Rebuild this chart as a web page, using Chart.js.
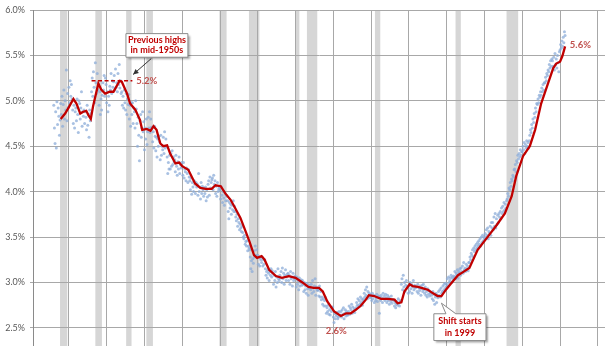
<!DOCTYPE html>
<html>
<head>
<meta charset="utf-8">
<script src="https://cdn.jsdelivr.net/npm/chart.js@4.4.1/dist/chart.umd.min.js"></script>
<style>
html, body { margin: 0; padding: 0; background: #fff; overflow: hidden; }
#wrap { width: 616px; height: 346px; position: relative; }
</style>
</head>
<body>
<div id="wrap"><canvas id="chart"></canvas></div>
<script>
// monthly readings, Jan 1948 onward
var firstYear = 1948;
var monthlyShare = [
  4.95,4.70,4.53,4.88,4.48,4.99,4.74,4.92,4.83,4.62,4.79,4.97, // 1948
  4.85,5.05,4.72,4.96,5.12,4.80,5.00,4.90,5.34,4.78,5.08,4.93, // 1949
  5.15,4.98,5.22,5.05,5.18,5.02,4.90,4.75,4.95,4.70,4.88,4.92, // 1950
  4.78,5.02,4.85,4.65,5.00,4.97,4.80,4.92,5.10,4.72,4.88,4.83, // 1951
  4.90,4.75,4.88,4.82,4.68,4.95,4.73,4.85,4.60,4.90,4.78,4.86, // 1952
  5.10,5.25,5.05,5.32,5.15,4.98,5.42,5.20,5.08,5.30,5.12,5.18, // 1953
  4.95,5.10,4.85,5.02,4.90,5.06,5.20,5.12,5.28,5.05,5.25,5.18, // 1954
  4.98,5.10,4.88,5.05,4.95,5.16,5.12,5.30,5.08,5.22,5.15,5.21, // 1955
  5.28,5.12,5.35,5.15,5.20,5.10,5.30,5.18,5.40,5.14,5.22,5.08, // 1956
  5.10,4.95,5.05,4.92,5.12,4.98,4.90,5.08,4.85,5.02,4.96,5.07, // 1957
  4.80,4.95,4.72,4.98,4.85,4.98,4.75,4.92,4.88,4.70,5.00,4.91, // 1958
  4.75,4.50,4.82,4.62,4.34,4.78,4.85,4.60,4.70,4.88,4.66,4.77, // 1959
  4.46,4.70,4.58,4.80,4.52,4.66,4.82,4.70,4.88,4.65,4.80,4.71, // 1960
  4.70,4.55,4.66,4.48,4.72,4.61,4.45,4.60,4.38,4.58,4.50,4.61, // 1961
  4.55,4.35,4.62,4.40,4.50,4.46,4.60,4.42,4.66,4.48,4.58,4.50, // 1962
  4.38,4.20,4.32,4.25,4.40,4.25,4.42,4.28,4.45,4.30,4.38,4.33, // 1963
  4.35,4.22,4.40,4.28,4.18,4.33,4.25,4.38,4.20,4.30,4.26,4.32, // 1964
  4.28,4.18,4.32,4.15,4.25,4.22,4.12,4.26,4.20,4.10,4.24,4.16, // 1965
  4.12,4.02,4.15,3.97,4.10,4.05,4.00,4.12,4.08,3.98,4.10,4.05, // 1966
  4.08,3.96,4.20,4.00,4.05,3.92,4.10,3.98,4.06,4.02,3.95,4.04, // 1967
  3.98,4.05,3.90,4.02,3.94,4.08,4.12,3.96,4.16,4.04,4.10,4.13, // 1968
  4.15,4.02,4.18,4.08,4.12,3.98,4.06,3.95,4.10,4.00,4.03,4.05, // 1969
  4.02,3.92,4.05,3.96,3.88,4.00,3.93,3.85,3.98,3.90,3.96,3.95, // 1970
  3.90,3.78,3.70,3.88,3.82,3.86,3.75,3.85,3.80,3.90,3.78,3.84, // 1971
  3.78,3.72,3.68,3.75,3.62,3.70,3.66,3.58,3.64,3.60,3.56,3.62, // 1972
  3.55,3.50,3.48,3.52,3.42,3.45,3.40,3.46,3.35,3.40,3.38,3.36, // 1973
  3.28,3.15,3.24,3.12,3.26,3.21,3.35,3.28,3.40,3.30,3.36,3.29, // 1974
  3.30,3.20,3.28,3.18,3.27,3.25,3.22,3.28,3.18,3.25,3.20,3.25, // 1975
  3.15,3.08,3.12,3.05,3.14,3.10,3.02,3.12,3.08,3.15,3.06,3.13, // 1976
  3.10,2.98,3.08,3.02,3.12,2.95,3.06,3.00,3.15,3.04,3.02,3.08, // 1977
  3.05,3.12,3.00,3.16,3.04,3.10,2.98,3.08,3.14,3.02,3.06,3.09, // 1978
  3.10,3.02,3.08,2.98,3.12,3.04,3.06,2.96,3.10,3.02,3.05,3.07, // 1979
  3.04,2.95,3.06,2.98,3.02,2.92,3.05,2.96,3.00,3.03,2.97,3.02, // 1980
  2.98,2.90,3.00,2.92,2.96,2.88,2.99,2.93,2.86,2.97,2.94,2.95, // 1981
  2.92,2.98,2.88,3.02,2.94,2.90,2.96,3.04,2.86,2.95,2.92,2.91, // 1982
  2.92,2.85,2.96,2.84,2.90,2.81,2.84,2.76,2.82,2.74,2.80,2.84, // 1983
  2.74,2.66,2.72,2.68,2.75,2.65,2.70,2.64,2.73,2.68,2.72,2.73, // 1984
  2.62,2.56,2.66,2.60,2.65,2.63,2.67,2.60,2.62,2.68,2.63,2.64, // 1985
  2.68,2.62,2.70,2.65,2.72,2.60,2.66,2.70,2.63,2.68,2.64,2.64, // 1986
  2.68,2.74,2.65,2.72,2.70,2.76,2.66,2.73,2.68,2.71,2.67,2.70, // 1987
  2.72,2.78,2.75,2.82,2.74,2.80,2.76,2.84,2.78,2.82,2.75,2.80, // 1988
  2.82,2.88,2.84,2.92,2.86,2.95,2.82,2.90,2.85,2.88,2.83,2.87, // 1989
  2.84,2.80,2.88,2.82,2.86,2.78,2.85,2.80,2.83,2.87,2.79,2.84, // 1990
  2.85,2.66,2.84,2.80,2.86,2.83,2.78,2.88,2.82,2.85,2.80,2.87, // 1991
  2.83,2.78,2.86,2.80,2.84,2.76,2.82,2.79,2.85,2.77,2.81,2.81, // 1992
  2.80,2.74,2.78,2.72,2.76,2.79,2.75,2.82,2.77,2.74,2.80,2.79, // 1993
  2.98,3.04,2.92,3.08,2.95,3.00,2.90,2.97,3.02,2.94,2.96,2.88, // 1994
  2.96,2.90,3.00,2.93,2.98,2.88,2.95,3.02,2.92,2.97,2.94,2.95, // 1995
  2.95,2.90,2.98,2.88,2.94,2.91,2.96,2.86,2.93,2.97,2.90,2.98, // 1996
  2.92,2.88,2.95,2.86,2.90,2.84,2.93,2.87,2.91,2.85,2.89,2.88, // 1997
  2.86,2.82,2.90,2.80,2.87,2.76,2.84,2.88,2.78,2.86,2.83,2.90, // 1998
  2.86,2.92,2.84,2.94,2.88,2.90,2.96,2.91,2.98,2.93,2.99,2.95, // 1999
  2.98,3.04,2.96,3.06,3.00,3.02,3.05,3.08,3.00,3.06,3.04,3.07, // 2000
  3.06,3.12,3.04,3.10,3.08,3.14,3.05,3.12,3.10,3.15,3.08,3.16, // 2001
  3.12,3.18,3.10,3.22,3.14,3.16,3.12,3.20,3.15,3.18,3.13,3.22, // 2002
  3.22,3.28,3.25,3.32,3.30,3.36,3.28,3.38,3.34,3.40,3.36,3.42, // 2003
  3.38,3.44,3.40,3.46,3.42,3.48,3.40,3.50,3.44,3.52,3.46,3.50, // 2004
  3.48,3.54,3.50,3.58,3.52,3.60,3.48,3.56,3.54,3.62,3.52,3.66, // 2005
  3.60,3.66,3.58,3.72,3.62,3.76,3.60,3.70,3.64,3.74,3.66,3.76, // 2006
  3.72,3.78,3.70,3.82,3.76,3.84,3.78,3.88,3.80,3.86,3.82,3.90, // 2007
  3.92,3.98,3.95,4.04,4.02,4.10,4.06,4.14,4.12,4.18,4.16,4.24, // 2008
  4.25,4.30,4.22,4.34,4.32,4.40,4.36,4.42,4.38,4.46,4.40,4.44, // 2009
  4.44,4.50,4.46,4.54,4.42,4.52,4.48,4.56,4.50,4.54,4.48,4.56, // 2010
  4.62,4.68,4.65,4.74,4.70,4.80,4.76,4.86,4.82,4.92,4.88,4.97, // 2011
  4.96,5.02,4.98,5.06,5.04,5.10,5.06,5.14,5.10,5.18,5.12,5.20, // 2012
  5.20,5.26,5.22,5.30,5.28,5.34,5.32,5.40,5.36,5.44,5.38,5.46, // 2013
  5.44,5.38,5.48,5.34,5.52,5.40,5.46,5.36,5.50,5.42,5.32,5.54, // 2014
  5.56,5.62,5.58,5.66,5.60,5.70,5.64,5.76,5.72                 // 2015
];

// 12-month moving average
var maYears = [
  1948.92,1949.5,1950.0,1950.6,1951.0,1951.5,1951.9,1952.3,1952.6,1952.9,
  1953.2,1953.9,1954.3,1954.8,1955.4,1955.9,1956.7,1957.0,1957.7,1958.1,
  1958.8,1959.4,1959.7,1960.3,1960.8,1961.2,1961.6,1962.1,1962.5,1963.0,
  1963.4,1964.1,1964.6,1965.0,1965.8,1966.7,1967.4,1968.1,1968.9,1969.4,
  1970.1,1970.7,1971.4,1972.0,1972.7,1973.4,1973.9,1974.5,1974.9,1975.5,
  1975.9,1976.5,1977.4,1978.2,1979.1,1980.0,1980.9,1981.7,1982.4,1983.1,
  1983.6,1984.2,1985.1,1986.0,1986.7,1987.3,1988.0,1988.6,1989.3,1989.7,
  1990.4,1991.3,1992.2,1993.1,1993.5,1994.0,1994.4,1995.1,1995.5,1996.2,
  1997.1,1997.5,1998.2,1998.8,1999.3,1999.9,2000.6,2001.5,2001.9,2003.0,
  2004.1,2005.5,2006.6,2007.7,2008.6,2009.2,2010.1,2011.0,2011.7,2012.5,
  2013.4,2014.1,2014.5,2015.0,2015.3,2015.67
];
var maValues = [
  4.80,4.86,4.93,5.02,4.97,4.86,4.88,4.89,4.84,4.80,
  4.94,5.19,5.12,5.08,5.10,5.10,5.22,5.21,5.08,4.97,
  4.90,4.79,4.68,4.69,4.67,4.72,4.68,4.53,4.50,4.51,
  4.42,4.31,4.32,4.28,4.24,4.09,4.04,4.03,4.03,4.07,
  4.06,3.98,3.91,3.82,3.71,3.56,3.45,3.30,3.27,3.29,
  3.25,3.14,3.07,3.05,3.07,3.05,3.00,2.95,2.94,2.94,
  2.90,2.79,2.68,2.63,2.66,2.66,2.70,2.74,2.81,2.86,
  2.85,2.82,2.82,2.81,2.77,2.78,2.90,2.98,2.96,2.95,
  2.93,2.92,2.88,2.85,2.85,2.92,2.99,3.08,3.10,3.16,
  3.36,3.51,3.63,3.76,3.95,4.17,4.39,4.50,4.68,4.97,
  5.19,5.36,5.41,5.43,5.49,5.60
];

// recessions: [start, end] as decimal years
var recessions = [
  [1948.83,1949.79],[1953.50,1954.37],[1957.58,1958.29],[1960.25,1961.12],
  [1969.92,1970.87],[1973.83,1975.21],[1980.00,1980.50],[1981.50,1982.87],
  [1990.50,1991.21],[2001.17,2001.87],[2007.92,2009.46]
];

var gridYears = [1950,1955,1960,1965,1970,1975,1980,1985,1990,1995,2000,2005,2010,2015,2020];
var pctTicks = [2.5,3.0,3.5,4.0,4.5,5.0,5.5,6.0];

var red = '#c00000';
var labelRed = '#c0504d';

Chart.defaults.font.family = 'Lato, "Open Sans", sans-serif';

var bandPlugin = {
  id: 'bands',
  beforeDraw: function(chart) {
    var c = chart.ctx, a = chart.chartArea, xs = chart.scales.x;
    c.save();
    c.beginPath();
    c.rect(a.left, a.top, a.width, a.height);
    c.clip();
    c.fillStyle = '#d6d6d6';
    recessions.forEach(function(r) {
      var x0 = xs.getPixelForValue(r[0]), x1 = xs.getPixelForValue(r[1]);
      c.fillRect(x0, a.top, x1 - x0, a.height);
    });
    c.restore();
  }
};

function callout(c, x0, y0, x1, y1, lines, cx, lineYs, pointer) {
  c.save();
  c.shadowColor = 'rgba(0,0,0,0.35)';
  c.shadowOffsetX = 2;
  c.shadowOffsetY = 2;
  c.shadowBlur = 2;
  c.beginPath();
  if (pointer) {
    c.moveTo(x0, y0);
    c.lineTo(pointer[0], y0);
    c.lineTo(pointer[2], pointer[3]);
    c.lineTo(pointer[1], y0);
    c.lineTo(x1, y0);
  } else {
    c.moveTo(x0, y0);
    c.lineTo(x1, y0);
  }
  c.lineTo(x1, y1);
  c.lineTo(x0, y1);
  c.closePath();
  c.fillStyle = '#fff';
  c.fill();
  c.shadowColor = 'transparent';
  c.strokeStyle = '#8c8c8c';
  c.lineWidth = 1;
  c.stroke();
  c.fillStyle = red;
  c.font = 'bold 9px Lato, sans-serif';
  c.textAlign = 'center';
  c.textBaseline = 'middle';
  lines.forEach(function(t, i) { c.fillText(t, cx, lineYs[i]); });
  c.restore();
}

var notePlugin = {
  id: 'notes',
  afterDraw: function(chart) {
    var c = chart.ctx, xs = chart.scales.x, ys = chart.scales.y;
    var X = function(v) { return xs.getPixelForValue(v); };
    var Y = function(v) { return ys.getPixelForValue(v); };

    // mid-1950s high marker
    c.save();
    c.strokeStyle = red;
    c.lineWidth = 1.5;
    c.setLineDash([4, 2.5]);
    c.beginPath();
    c.moveTo(X(1953.0), Y(5.22));
    c.lineTo(X(1958.4), Y(5.22));
    c.stroke();
    c.restore();

    c.save();
    c.fillStyle = labelRed;
    c.font = 'bold 9.5px Lato, sans-serif';
    c.textBaseline = 'middle';
    c.textAlign = 'left';
    c.fillText('5.2%', X(1958.9), Y(5.22));
    c.fillText('5.6%', X(2016.3), Y(5.61));
    c.textAlign = 'center';
    c.fillText('2.6%', X(1985.4), Y(2.47));
    c.restore();

    // arrow from the first note to the high
    var ax0 = X(1960.9), ay0 = Y(5.465), ax1 = X(1958.5), ay1 = Y(5.29);
    c.save();
    c.strokeStyle = '#333';
    c.fillStyle = '#333';
    c.lineWidth = 1;
    c.beginPath();
    c.moveTo(ax0, ay0);
    c.lineTo(ax1, ay1);
    c.stroke();
    var ang = Math.atan2(ay1 - ay0, ax1 - ax0);
    c.beginPath();
    c.moveTo(ax1, ay1);
    c.lineTo(ax1 - 6 * Math.cos(ang - 0.45), ay1 - 6 * Math.sin(ang - 0.45));
    c.lineTo(ax1 - 6 * Math.cos(ang + 0.45), ay1 - 6 * Math.sin(ang + 0.45));
    c.closePath();
    c.fill();
    c.restore();

    callout(c, X(1957.55), Y(5.74), X(1965.75), Y(5.48),
      ['Previous highs', 'in mid-1950s'], X(1961.65), [Y(5.665), Y(5.555)]);

    callout(c, X(1998.3), Y(2.655), X(2005.2), Y(2.36),
      ['Shift starts', 'in 1999'], X(2001.75), [Y(2.57), Y(2.44)],
      [X(1999.9), X(2001.2), X(1999.3), Y(2.772)]);
  }
};

var ctx = document.getElementById('chart').getContext('2d');
var chart = new Chart(ctx, {
  data: {
    datasets: [
      {
        type: 'line',
        data: maYears.map(function(x, i) { return { x: x, y: maValues[i] }; }),
        borderColor: red,
        borderWidth: 2.3,
        pointRadius: 0,
        tension: 0,
        fill: false
      },
      {
        type: 'scatter',
        data: monthlyShare.map(function(v, i) { return { x: firstYear + i / 12, y: v }; }),
        backgroundColor: 'rgba(140,172,216,0.75)',
        borderWidth: 0,
        pointRadius: 1.5
      }
    ]
  },
  options: {
    responsive: true,
    maintainAspectRatio: false,
    animation: false,
    devicePixelRatio: 1,
    layout: { autoPadding: false, padding: { left: 0, top: 10, right: 11, bottom: 0 } },
    plugins: { legend: { display: false }, tooltip: { enabled: false } },
    scales: {
      x: {
        type: 'linear',
        min: 1945.25,
        max: 2020.95,
        afterBuildTicks: function(s) { s.ticks = gridYears.map(function(v) { return { value: v }; }); },
        afterFit: function(s) { s.height = 0; s.paddingLeft = 0; s.paddingRight = 0; },
        ticks: { display: false },
        grid: { color: '#a8a8a8', lineWidth: 1, drawTicks: false },
        border: { display: false }
      },
      y: {
        min: 2.30,
        max: 6.0,
        afterBuildTicks: function(s) { s.ticks = pctTicks.map(function(v) { return { value: v }; }); },
        afterFit: function(s) { s.width = 33; s.paddingTop = 0; s.paddingBottom = 0; },
        ticks: {
          padding: 5,
          color: '#595959',
          font: { size: 9 },
          callback: function(v) { return v.toFixed(1) + '%'; }
        },
        grid: { color: '#a8a8a8', lineWidth: 1, tickLength: 3 },
        border: { color: '#8a8a8a', width: 1 }
      }
    }
  },
  plugins: [bandPlugin, notePlugin]
});
</script>
</body>
</html>
